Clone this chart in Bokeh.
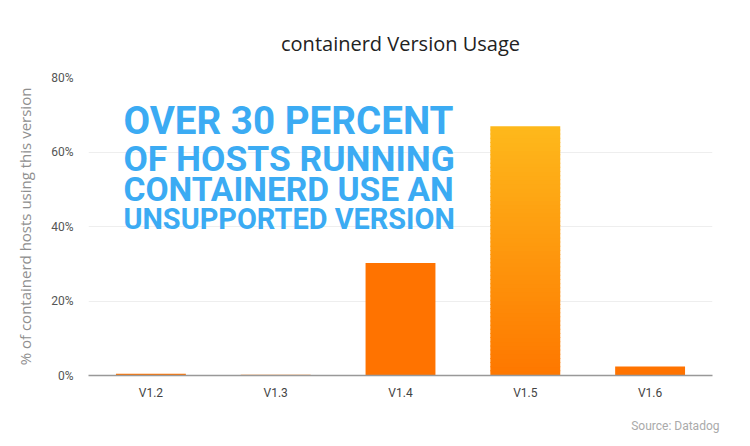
from bokeh.plotting import figure
from bokeh.models import FactorRange, Range1d, FixedTicker, PrintfTickFormatter, Label, Title
from bokeh.embed import file_html
from bokeh.resources import INLINE
import numpy as np

versions = ["V1.2", "V1.3", "V1.4", "V1.5", "V1.6"]
usage = [0.5, 0.2, 30.2, 66.9, 2.4]
y_ticks = [0, 20, 40, 60, 80]
headline = ["OVER 30 PERCENT", "OF HOSTS RUNNING", "CONTAINERD USE AN", "UNSUPPORTED VERSION"]
title_text = "containerd Version Usage"
source_text = "Source: Datadog"

BAR_W = 0.56
ORANGE = "#FF7300"

p = figure(x_range=FactorRange(factors=versions), y_range=Range1d(0, 80),
           width=750, height=446, output_backend="svg", toolbar_location=None,
           min_border_left=88, min_border_right=38, min_border_top=77, min_border_bottom=70)
p.outline_line_color = None
p.background_fill_color = "white"
p.border_fill_color = "white"

solid_x = [v for v in versions if v != "V1.5"]
solid_y = [u for v, u in zip(versions, usage) if v != "V1.5"]
p.vbar(x=solid_x, top=solid_y, width=BAR_W, fill_color=ORANGE, line_color=None)

# gradient bar for V1.5
hi = usage[versions.index("V1.5")]
n = 60
edges = np.linspace(0, hi, n + 1)
c_bot = np.array([0xFF, 0x78, 0x00])
c_top = np.array([0xFE, 0xB9, 0x1C])
cols = []
for i in range(n):
    t = (i + 0.5) / n
    c = (c_bot * (1 - t) + c_top * t).astype(int)
    cols.append("#%02x%02x%02x" % tuple(c))
p.vbar(x=["V1.5"] * n, bottom=edges[:-1], top=np.minimum(edges[1:] + hi * 0.004, hi), width=BAR_W,
       fill_color=cols, line_color=None)

p.xgrid.grid_line_color = None
p.ygrid.grid_line_color = "#EEEEEE"
p.ygrid.grid_line_width = 1
p.yaxis.ticker = FixedTicker(ticks=y_ticks)
p.yaxis.formatter = PrintfTickFormatter(format="%d%%")
p.yaxis.axis_line_color = None
p.yaxis.major_tick_line_color = None
p.yaxis.minor_tick_line_color = None
p.yaxis.major_label_standoff = 9
p.yaxis.major_label_text_font = "Roboto"
p.yaxis.major_label_text_font_size = "12px"
p.yaxis.major_label_text_color = "#555555"
p.yaxis.axis_label = "% of containerd hosts using this version"
p.yaxis.axis_label_text_font = "Open Sans"
p.yaxis.axis_label_text_font_style = "normal"
p.yaxis.axis_label_text_font_size = "15px"
p.yaxis.axis_label_text_color = "#8F8F8F"
p.yaxis.axis_label_standoff = 13

p.xaxis.axis_line_color = "#999999"
p.xaxis.axis_line_width = 1.5
p.xaxis.major_tick_line_color = None
p.xaxis.minor_tick_line_color = None
p.xaxis.major_label_standoff = 4
p.xaxis.major_label_text_font = "Roboto"
p.xaxis.major_label_text_font_size = "12px"
p.xaxis.major_label_text_color = "#444444"

p.title.text = title_text
p.title.align = "center"
p.title.vertical_align = "top"
p.title.text_font = "Open Sans"
p.title.text_font_style = "normal"
p.title.text_font_size = "20px"
p.title.text_color = "#222222"
p.title.standoff = 37

src = Title(text=source_text, align="right", text_font="Roboto", offset=-7,
            text_font_style="normal", text_font_size="12px", text_color="#AAAAAA", standoff=28)
p.add_layout(src, "below")

sizes = ["38.6px", "35.4px", "33.6px", "28.9px"]
ys = [68.5, 58.2, 49.8, 41.9]
for txt, fs, yy in zip(headline, sizes, ys):
    p.add_layout(Label(x=0.28, y=yy, text=txt, text_font="Roboto",
                       text_font_style="bold", text_font_size=fs, text_color="#3BABF3",
                       text_baseline="middle", text_align="left"))

open("out.html", "w").write(file_html(p, INLINE))
